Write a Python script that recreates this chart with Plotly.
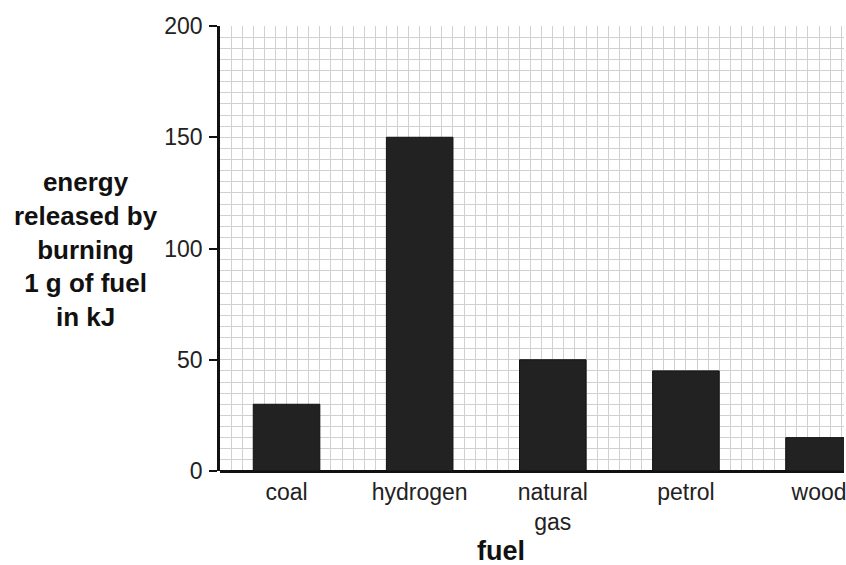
import plotly.graph_objects as go

categories = ["coal", "hydrogen", "natural<br>gas", "petrol", "wood"]
energy_kj = [30, 150, 50, 45, 15]
y_ticks = [0, 50, 100, 150, 200]

fig = go.Figure()
fig.add_trace(go.Bar(
    x=categories, y=energy_kj, width=0.5,
    marker=dict(color="#222222", line=dict(color="#111111", width=1)),
    showlegend=False, xaxis="x", yaxis="y",
))
# invisible trace to drive the fine grid axis
fig.add_trace(go.Scatter(x=[0], y=[0], mode="markers", marker=dict(opacity=0),
                         showlegend=False, hoverinfo="skip", xaxis="x2", yaxis="y"))

fig.update_layout(
    width=846, height=565,
    margin=dict(l=220, r=0, t=26, b=94),
    paper_bgcolor="white", plot_bgcolor="white",
    font=dict(family="Liberation Sans, Arial, sans-serif", color="#222222"),
    xaxis=dict(
        type="category", range=[-0.5, 4.1875],
        showgrid=False, zeroline=False,
        showline=False, ticks="",
        tickfont=dict(size=23, color="#222222"),
        ticklabelstandoff=5,
    ),
    xaxis2=dict(
        overlaying="x", range=[0, 56.25], dtick=1, showgrid=True,
        gridcolor="#d0d0d0", gridwidth=1, showticklabels=False, ticks="",
        zeroline=False, showline=False, layer="below traces",
    ),
    yaxis=dict(
        range=[0, 200], tickvals=y_ticks,
        showgrid=True, gridcolor="#d0d0d0", gridwidth=1,
        minor=dict(dtick=5, showgrid=True, gridcolor="#d0d0d0", gridwidth=1),
        showline=True, linecolor="#111111", linewidth=2.5,
        ticks="outside", ticklen=8, tickwidth=2, tickcolor="#111111",
        tickfont=dict(size=23, color="#222222"),
        ticklabelstandoff=2,
        zeroline=True, zerolinecolor="#111111", zerolinewidth=2.5,
    ),
    bargap=0.5,
)

fig.add_annotation(
    text="<b>energy<br>released by<br>burning<br>1 g of fuel<br>in kJ</b>",
    xref="paper", yref="paper", x=-0.214, y=0.497, xanchor="center", yanchor="middle",
    showarrow=False, font=dict(size=26, color="#111111"), align="center",
)
fig.add_annotation(
    text="<b>fuel</b>",
    xref="paper", yref="paper", x=0.45, y=-0.18, xanchor="center", yanchor="middle",
    showarrow=False, font=dict(size=27, color="#111111"),
)

fig.write_html(
    "out.html",
    config={"displayModeBar": False},
    post_script="document.body.style.margin='0';document.body.style.overflow='hidden';",
)
